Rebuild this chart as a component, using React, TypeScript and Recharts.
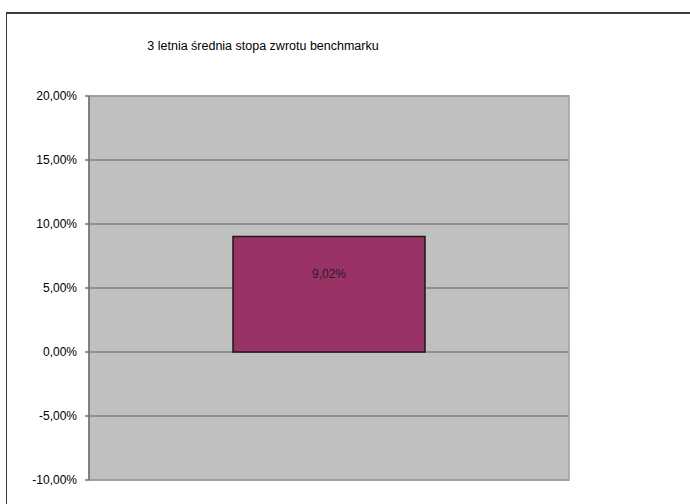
import React from 'react';
import { BarChart, Bar, XAxis, YAxis, CartesianGrid, LabelList, ReferenceArea } from 'recharts';

const categories = ['benchmark'];
const values = [0.0902];
const yTicks = [-0.1, -0.05, 0, 0.05, 0.1, 0.15, 0.2];
const title = '3 letnia średnia stopa zwrotu benchmarku';

const data = categories.map((c, i) => ({ name: c, value: values[i] }));

const fmt = (v: number) => (v * 100).toFixed(2).replace('.', ',') + '%';

export default function App() {
  return (
    <div style={{ position: 'absolute', left: 0, top: 0, width: 690, height: 504, background: '#fff', overflow: 'hidden', fontFamily: 'Arial, "Liberation Sans", sans-serif' }}>
      <div style={{ position: 'absolute', left: 6, top: 12, width: 700, height: 520, borderTop: '2px solid #3c3c3c', borderLeft: '1px solid #3c3c3c' }} />
      <div style={{ position: 'absolute', left: 63, width: 400, top: 38, textAlign: 'center', fontSize: 12.5, color: '#000', lineHeight: '16px' }}>{title}</div>
      <div style={{ position: 'absolute', left: 0, top: 0 }}>
        <BarChart width={690} height={504} data={data} margin={{ top: 96, right: 121, bottom: 24, left: 0 }} barCategoryGap="30%">
          <CartesianGrid vertical={false} fill="#c0c0c0" stroke="#808080" strokeWidth={1.5} />
          <XAxis dataKey="name" hide />
          <YAxis
            width={89}
            domain={[-0.1, 0.2]}
            ticks={yTicks}
            tickFormatter={fmt}
            tickSize={4}
            tickMargin={8}
            interval={0}
            axisLine={{ stroke: '#707070', strokeWidth: 1.5 }}
            tickLine={{ stroke: '#707070', strokeWidth: 1.5 }}
            tick={{ fill: '#000', fontSize: 12, fontFamily: 'Arial, "Liberation Sans", sans-serif' }}
          />
          <ReferenceArea y1={-0.1} y2={0.2} fill="none" stroke="#a0a0a0" strokeWidth={1.5} ifOverflow="visible" />
          <Bar dataKey="value" fill="#993366" stroke="#1a1a1a" strokeWidth={1.5} isAnimationActive={false}>
            <LabelList dataKey="value" position="insideTop" offset={33} formatter={(v: any) => fmt(Number(v))} fill="#2a1a22" fontSize={12} fontFamily='Arial, "Liberation Sans", sans-serif' />
          </Bar>
        </BarChart>
      </div>
    </div>
  );
}
